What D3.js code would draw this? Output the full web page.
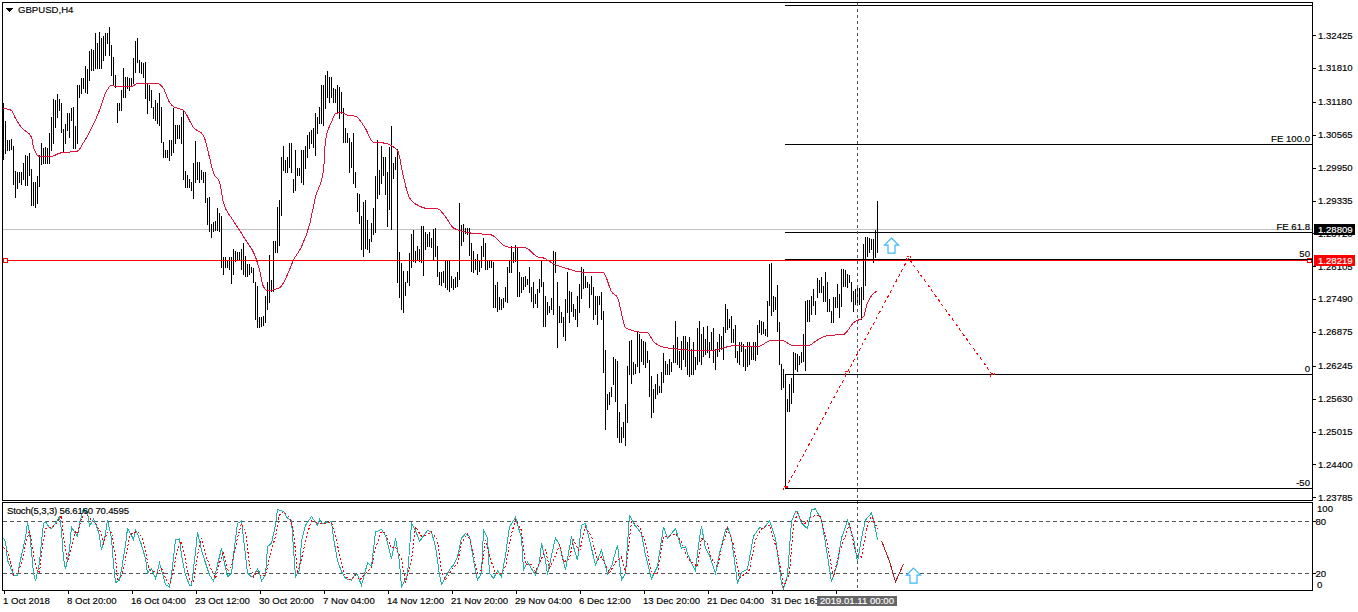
<!DOCTYPE html>
<html>
<head>
<meta charset="utf-8">
<title>GBPUSD,H4</title>
<script src="https://cdn.jsdelivr.net/npm/d3@7/dist/d3.min.js"></script>
<style>
  html, body { margin: 0; padding: 0; background: #fff; }
  svg { display: block; }
  text { font-family: "Liberation Sans", Arial, sans-serif; font-size: 9.6px; fill: #000; stroke: #000; stroke-width: 0.15px; }
  text.inverse { fill: #fff; stroke: #fff; }
  .crisp { shape-rendering: crispEdges; }
</style>
</head>
<body>
<svg id="chart" width="1358" height="612"></svg>
<script>
// H4 bars, oldest first
const highs = [
1.3116,1.3083,1.3047,1.3047,1.3049,1.3036,1.2989,1.2986,1.2987,1.2986,
1.3004,1.3019,1.3017,1.3023,1.2993,1.2969,1.2969,1.2980,1.3019,1.3042,
1.3032,1.3034,1.3032,1.3060,1.3090,1.3124,1.3122,1.3133,1.3124,1.3116,
1.3068,1.3077,1.3097,1.3097,1.3107,1.3109,1.3073,1.3150,1.3150,1.3163,
1.3163,1.3185,1.3179,1.3213,1.3217,1.3215,1.3247,1.3228,1.3248,1.3237,
1.3241,1.3247,1.3247,1.3258,1.3224,1.3202,1.3168,1.3116,1.3116,1.3140,
1.3181,1.3165,1.3165,1.3163,1.3163,1.3200,1.3232,1.3237,1.3196,1.3192,
1.3191,1.3192,1.3153,1.3150,1.3140,1.3109,1.3122,1.3116,1.3135,1.3109,
1.3043,1.3028,1.3028,1.3047,1.3047,1.3107,1.3075,1.3075,1.3075,1.3090,
1.3103,1.2989,1.2982,1.2973,1.2969,1.3004,1.3045,1.3006,1.3006,1.2991,
1.2987,1.2987,1.2939,1.2941,1.2889,1.2894,1.2896,1.2920,1.2911,1.2904,
1.2827,1.2827,1.2823,1.2827,1.2827,1.2842,1.2840,1.2838,1.2838,1.2842,
1.2855,1.2829,1.2814,1.2814,1.2810,1.2808,1.2781,1.2773,1.2715,1.2715,
1.2717,1.2755,1.2782,1.2831,1.2784,1.2857,1.2857,1.2922,1.2935,1.3015,
1.3036,1.3010,1.3014,1.3042,1.3042,1.2973,1.3028,1.2995,1.2995,1.3028,
1.3028,1.3036,1.3056,1.3062,1.3066,1.3069,1.3097,1.3090,1.3109,1.3150,
1.3150,1.3168,1.3176,1.3165,1.3165,1.3144,1.3142,1.3150,1.3146,1.3137,
1.3107,1.3069,1.3060,1.3051,1.3043,1.3060,1.2987,1.2948,1.2945,1.2904,
1.2930,1.2935,1.2898,1.2861,1.2891,1.2919,1.2980,1.3047,1.2991,1.3036,
1.3015,1.3015,1.2986,1.3034,1.3073,1.3004,1.3014,1.3030,1.2838,1.2816,
1.2801,1.2782,1.2801,1.2835,1.2870,1.2879,1.2840,1.2848,1.2842,1.2885,
1.2885,1.2874,1.2870,1.2874,1.2864,1.2881,1.2883,1.2848,1.2799,1.2799,
1.2801,1.2822,1.2820,1.2820,1.2792,1.2786,1.2790,1.2799,1.2928,1.2887,
1.2889,1.2883,1.2883,1.2883,1.2855,1.2840,1.2825,1.2833,1.2823,1.2848,
1.2864,1.2855,1.2823,1.2823,1.2822,1.2818,1.2775,1.2781,1.2753,1.2749,
1.2751,1.2771,1.2809,1.2820,1.2848,1.2837,1.2851,1.2846,1.2799,1.2790,
1.2790,1.2792,1.2786,1.2810,1.2771,1.2781,1.2758,1.2768,1.2786,1.2823,
1.2782,1.2755,1.2743,1.2736,1.2751,1.2840,1.2837,1.2782,1.2736,1.2725,
1.2715,1.2749,1.2799,1.2764,1.2762,1.2740,1.2730,1.2755,1.2777,1.2810,
1.2805,1.2792,1.2781,1.2777,1.2792,1.2771,1.2755,1.2755,1.2755,1.2762,
1.2727,1.2654,1.2572,1.2576,1.2585,1.2641,1.2637,1.2633,1.2538,1.2510,
1.2520,1.2553,1.2624,1.2671,1.2673,1.2632,1.2628,1.2689,1.2684,1.2674,
1.2671,1.2669,1.2652,1.2635,1.2605,1.2581,1.2591,1.2609,1.2587,1.2613,
1.2648,1.2633,1.2628,1.2637,1.2632,1.2663,1.2708,1.2678,1.2652,1.2671,
1.2680,1.2680,1.2669,1.2678,1.2656,1.2669,1.2641,1.2695,1.2708,1.2684,
1.2697,1.2674,1.2699,1.2669,1.2687,1.2695,1.2656,1.2669,1.2684,1.2680,
1.2697,1.2740,1.2730,1.2712,1.2717,1.2693,1.2701,1.2652,1.2669,1.2669,
1.2665,1.2656,1.2669,1.2669,1.2659,1.2669,1.2669,1.2701,1.2710,1.2708,
1.2706,1.2693,1.2745,1.2814,1.2816,1.2755,1.2753,1.2775,1.2706,1.2628,
1.2618,1.2605,1.2563,1.2591,1.2602,1.2650,1.2648,1.2646,1.2643,1.2650,
1.2684,1.2745,1.2747,1.2747,1.2755,1.2768,1.2745,1.2788,1.2784,1.2790,
1.2773,1.2799,1.2781,1.2749,1.2727,1.2753,1.2753,1.2777,1.2758,1.2805,
1.2805,1.2803,1.2796,1.2794,1.2781,1.2764,1.2768,1.2771,1.2769,1.2771,
1.2853,1.2866,1.2866,1.2864,1.2861,1.2861,1.2879,1.2932];

const lows = [
1.3012,1.3023,1.3028,1.3028,1.3030,1.2965,1.2941,1.2956,1.2969,1.2965,
1.2973,1.2963,1.2963,1.2982,1.2926,1.2926,1.2922,1.2928,1.2960,1.3001,
1.3004,1.3004,1.3004,1.3004,1.3028,1.3042,1.3071,1.3090,1.3103,1.3062,
1.3027,1.3042,1.3066,1.3053,1.3084,1.3032,1.3032,1.3042,1.3127,1.3135,
1.3144,1.3137,1.3135,1.3159,1.3178,1.3178,1.3181,1.3181,1.3181,1.3181,
1.3196,1.3206,1.3228,1.3206,1.3168,1.3150,1.3146,1.3081,1.3103,1.3103,
1.3127,1.3127,1.3144,1.3140,1.3148,1.3153,1.3174,1.3192,1.3174,1.3172,
1.3165,1.3125,1.3097,1.3122,1.3109,1.3088,1.3084,1.3079,1.3075,1.3043,
1.3015,1.3015,1.3015,1.3010,1.3019,1.3025,1.3042,1.3051,1.3051,1.3042,
1.2973,1.2958,1.2958,1.2958,1.2954,1.2939,1.2969,1.2973,1.2969,1.2973,
1.2969,1.2930,1.2889,1.2876,1.2866,1.2876,1.2879,1.2879,1.2876,1.2809,
1.2797,1.2810,1.2809,1.2805,1.2779,1.2797,1.2820,1.2823,1.2823,1.2805,
1.2796,1.2792,1.2792,1.2796,1.2799,1.2781,1.2712,1.2697,1.2697,1.2699,
1.2700,1.2706,1.2730,1.2743,1.2764,1.2764,1.2838,1.2838,1.2850,1.2907,
1.2991,1.2986,1.2986,1.2997,1.2986,1.2950,1.2954,1.2982,1.2982,1.2969,
1.2965,1.2995,1.3015,1.3032,1.3042,1.3034,1.3019,1.3060,1.3079,1.3079,
1.3075,1.3107,1.3127,1.3118,1.3127,1.3118,1.3118,1.3099,1.3088,1.3097,
1.3043,1.3043,1.3043,1.2987,1.2997,1.2967,1.2958,1.2913,1.2892,1.2842,
1.2829,1.2844,1.2842,1.2838,1.2857,1.2870,1.2874,1.2939,1.2945,1.2967,
1.2982,1.2945,1.2885,1.2917,1.2881,1.2976,1.2993,1.2781,1.2753,1.2730,
1.2725,1.2756,1.2781,1.2775,1.2810,1.2820,1.2818,1.2823,1.2820,1.2818,
1.2794,1.2842,1.2848,1.2848,1.2846,1.2823,1.2829,1.2792,1.2777,1.2775,
1.2781,1.2771,1.2768,1.2764,1.2771,1.2768,1.2771,1.2773,1.2786,1.2850,
1.2857,1.2872,1.2870,1.2831,1.2801,1.2799,1.2805,1.2797,1.2801,1.2810,
1.2829,1.2805,1.2805,1.2809,1.2809,1.2734,1.2734,1.2727,1.2730,1.2730,
1.2734,1.2745,1.2743,1.2799,1.2799,1.2818,1.2820,1.2755,1.2755,1.2762,
1.2768,1.2773,1.2777,1.2762,1.2745,1.2734,1.2741,1.2734,1.2762,1.2773,
1.2699,1.2699,1.2721,1.2725,1.2730,1.2721,1.2799,1.2659,1.2706,1.2706,
1.2680,1.2673,1.2725,1.2706,1.2727,1.2717,1.2712,1.2699,1.2725,1.2751,
1.2769,1.2771,1.2771,1.2734,1.2758,1.2712,1.2721,1.2702,1.2740,1.2712,
1.2613,1.2507,1.2544,1.2553,1.2568,1.2591,1.2559,1.2492,1.2482,1.2482,
1.2492,1.2477,1.2520,1.2609,1.2592,1.2609,1.2611,1.2624,1.2613,1.2633,
1.2628,1.2622,1.2632,1.2568,1.2529,1.2538,1.2564,1.2572,1.2576,1.2576,
1.2594,1.2609,1.2609,1.2609,1.2615,1.2632,1.2632,1.2628,1.2622,1.2618,
1.2637,1.2624,1.2609,1.2605,1.2609,1.2609,1.2618,1.2628,1.2633,1.2628,
1.2643,1.2646,1.2650,1.2641,1.2656,1.2632,1.2618,1.2643,1.2652,1.2656,
1.2637,1.2687,1.2693,1.2697,1.2669,1.2669,1.2641,1.2632,1.2628,1.2652,
1.2624,1.2617,1.2624,1.2628,1.2637,1.2637,1.2635,1.2646,1.2687,1.2684,
1.2686,1.2682,1.2680,1.2738,1.2719,1.2727,1.2730,1.2689,1.2628,1.2581,
1.2585,1.2544,1.2540,1.2540,1.2555,1.2576,1.2618,1.2615,1.2628,1.2632,
1.2633,1.2617,1.2708,1.2708,1.2721,1.2738,1.2721,1.2753,1.2762,1.2762,
1.2745,1.2745,1.2727,1.2727,1.2706,1.2706,1.2734,1.2734,1.2715,1.2736,
1.2773,1.2773,1.2771,1.2781,1.2745,1.2727,1.2740,1.2740,1.2740,1.2712,
1.2749,1.2775,1.2829,1.2838,1.2842,1.2818,1.2827,1.2838];

// Smoothed moving average, read at its turning points
const maBars = [0,4,6,9,14,15,18,24,28,37,40,43,48,51,54,56,64,67,77,80,83,85,90,95,100,103,105,108,110,114,118,121,126,128,130,132,138,142,145,149,153,156,160,161,164,166,169,172,176,181,185,190,197,200,203,208,211,217,221,225,233,244,250,254,261,267,270,275,282,288,300,304,307,311,317,322,325,329,339,345,355,360,365,377,384,389,395,402,408,412,420,425,430,432,437];
const maValues = [1.3107,1.3103,1.3088,1.3071,1.3053,1.3034,1.3017,1.3017,1.3023,1.3027,1.3043,1.3062,1.3103,1.3135,1.3150,1.3148,1.3148,1.3153,1.3153,1.3144,1.3118,1.3110,1.3103,1.3071,1.3056,1.3015,1.2986,1.2969,1.2930,1.2902,1.2879,1.2861,1.2829,1.2805,1.2773,1.2766,1.2771,1.2796,1.2823,1.2848,1.2889,1.2941,1.2991,1.3047,1.3081,1.3097,1.3099,1.3094,1.3092,1.3069,1.3043,1.3042,1.3028,1.2978,1.2939,1.2924,1.2920,1.2919,1.2904,1.2883,1.2874,1.2870,1.2851,1.2846,1.2846,1.2829,1.2827,1.2816,1.2807,1.2801,1.2799,1.2764,1.2753,1.2697,1.2689,1.2687,1.2671,1.2661,1.2656,1.2654,1.2654,1.2659,1.2663,1.2661,1.2673,1.2673,1.2663,1.2663,1.2676,1.2682,1.2684,1.2706,1.2717,1.2743,1.2766];

// Stochastic %K
const stochBars = [0,1,2,4,5,7,8,9,11,12,13,14,15,16,18,19,20,21,23,24,26,28,29,30,31,33,34,35,37,38,40,42,43,45,47,48,49,51,52,54,55,56,58,59,61,62,64,65,66,67,69,71,72,73,74,76,78,79,81,83,84,86,88,89,91,93,94,96,97,99,101,103,105,107,109,110,112,114,115,117,119,120,122,124,125,127,128,129,131,132,134,136,137,140,142,144,146,148,149,151,154,157,158,159,164,165,167,169,171,174,176,177,179,182,184,186,189,191,194,196,198,199,202,204,206,208,212,214,216,218,219,223,225,227,229,231,233,235,237,239,240,242,243,245,247,249,251,253,256,259,260,262,266,268,269,271,272,274,276,278,281,284,285,287,289,291,294,296,299,302,304,307,309,311,313,315,319,321,324,327,330,332,336,339,341,342,344,346,348,349,351,353,356,358,361,362,364,367,369,372,375,378,380,383,386,389,390,392,394,396,397,399,402,404,406,409,411,414,417,419,422,425,427,429,431,434,435,437];
const stochMain = [61,57,35,24,17,17,30,41,61,79,68,45,20,11,32,57,78,80,73,72,78,86,70,37,25,47,74,70,63,78,95,90,75,83,72,63,47,66,82,61,30,9,12,24,53,72,64,59,70,66,53,37,20,24,25,14,32,24,7,4,18,59,60,41,18,6,6,45,68,47,32,18,11,30,49,37,16,20,41,78,81,61,20,16,17,25,21,11,18,51,55,76,94,92,84,81,16,24,57,76,86,76,83,78,80,61,35,22,14,12,20,18,6,32,28,68,71,64,37,61,33,4,18,78,70,57,70,68,51,18,7,24,30,39,61,66,63,35,12,20,70,61,20,14,23,16,41,74,85,61,24,33,18,33,55,35,18,41,61,53,24,63,51,35,76,78,49,30,47,19,28,53,12,20,88,78,66,41,14,28,74,61,72,49,51,43,32,23,61,75,49,41,20,43,70,74,61,8,21,25,63,73,72,81,61,8,2,18,80,92,92,78,72,94,95,82,55,10,32,61,81,61,33,61,82,90,82,59];

// Stochastic %D
const signalBars = [0,2,4,5,7,9,11,13,14,16,18,19,21,24,26,29,30,32,34,36,37,39,41,44,46,49,50,52,54,56,57,59,61,63,64,67,69,71,73,75,77,79,81,83,85,87,89,91,93,95,97,99,101,104,106,108,110,112,114,117,119,121,123,125,127,129,131,134,136,138,140,143,145,147,149,152,154,157,159,164,166,169,171,174,176,178,181,184,186,189,191,194,196,199,201,204,206,209,211,214,217,219,221,224,227,229,232,234,237,239,241,244,246,249,251,254,256,259,261,264,266,269,271,273,275,278,280,283,285,288,291,294,297,299,303,306,309,311,314,318,321,324,327,330,333,336,339,341,343,347,349,352,354,357,359,362,365,368,373,376,379,383,387,390,393,395,397,400,404,408,411,415,418,423,426,429,432,434,437];
const stochSignal = [50,45,28,18,20,32,53,70,57,28,20,45,72,74,76,87,63,33,49,68,66,84,90,82,78,66,55,68,68,39,11,18,37,63,66,69,63,45,24,22,20,26,14,7,24,49,57,35,12,9,41,61,41,24,14,32,45,22,28,61,78,68,30,16,22,16,18,47,63,88,92,85,70,20,37,66,82,78,78,79,63,32,16,12,18,12,20,27,49,69,66,49,51,37,9,35,74,63,64,68,59,22,12,24,32,55,66,53,20,24,59,33,20,20,28,66,82,70,30,30,22,37,47,26,35,53,33,37,59,45,74,63,35,39,20,33,39,20,80,74,55,20,20,63,63,66,57,43,35,28,61,55,37,28,49,72,53,14,24,59,72,76,45,4,20,76,90,76,86,88,64,16,45,77,45,39,76,86,72];

// Hand-drawn projection in the stochastic window
const projectionBars = [439,443,446,450];
const projectionValues = [58,34,10,31];

// Zigzag drawn over the price window
const zigzagBars = [391,452.5,494.5];
const zigzagPrices = [1.23959,1.28269,1.26081];

// Fibonacci expansion levels
const fibPrices = [1.32990,1.30383,1.28746,1.28241,1.26091,1.23959];
const fibLabels = ["","FE 100.0","FE 61.8","50","0","-50"];
const fibAnchorBar = 391;

// Price axis
const priceTicks = [1.32425,1.31810,1.31180,1.30565,1.29950,1.29335,1.28720,1.28105,1.27490,1.26875,1.26245,1.25630,1.25015,1.24400,1.23785];
const bidPrice = 1.28809;
const linePrice = 1.28219;

// Time axis
const timeTickBars = [0,32,64,96,128,160,192,224,256,288,320,352,384,416];
const timeTickLabels = ["1 Oct 2018","8 Oct 20:00","16 Oct 04:00","23 Oct 12:00","30 Oct 20:00","7 Nov 04:00","14 Nov 12:00","21 Nov 20:00","29 Nov 04:00","6 Dec 12:00","13 Dec 20:00","21 Dec 04:00","31 Dec 16:00",""];
const crosshairBar = 427;
const crosshairLabel = "2019.01.11 00:00";

// Stochastic levels and labels
const stochLevels = [80,20];
const stochScaleLabels = [100,80,20,0];
const stochCaption = "Stoch(5,3,3) 56.6160 70.4595";
const chartCaption = "GBPUSD,H4";

// Up arrows: [bar, value]
const priceArrow = [444,1.28643];
const stochArrow = [455,26];

const left = 2.5, right = 1312.5;
const priceTop = 2.5, priceBottom = 500.5;
const stochTop = 502.5, stochBottom = 590.5;

const x = d3.scaleLinear().domain([0,437]).range([3.5,877.5]);
const y = d3.scaleLinear().domain([1.32425,1.23785]).range([35.8,497.8]);
const yStoch = d3.scaleLinear().domain([0,100]).range([590.5,504.5]);

const svg = d3.select("#chart");
const px = v => Math.round(v - 0.5) + 0.5;

const defs = svg.append("defs");
defs.append("clipPath").attr("id","priceClip").append("rect")
  .attr("x",left).attr("y",priceTop).attr("width",right-left).attr("height",priceBottom-priceTop);
defs.append("clipPath").attr("id","stochClip").append("rect")
  .attr("x",left).attr("y",stochTop).attr("width",right-left).attr("height",stochBottom-stochTop);

// --- price window ---
const main = svg.append("g").attr("class","crisp").attr("clip-path","url(#priceClip)");

main.append("line").attr("x1",left).attr("x2",right)
  .attr("y1",px(y(bidPrice))).attr("y2",px(y(bidPrice))).attr("stroke","#c0c0c0");

main.append("g").selectAll("line").data(highs).join("line")
  .attr("x1",(d,i)=>x(i)).attr("x2",(d,i)=>x(i))
  .attr("y1",d=>px(y(d))-0.5).attr("y2",(d,i)=>px(y(lows[i]))+0.5)
  .attr("stroke","#000");

const maLine = d3.line().x((d,i)=>x(maBars[i])).y(d=>y(d)).curve(d3.curveMonotoneX);
main.append("path").attr("d",maLine(maValues)).attr("fill","none").attr("stroke","#dc143c");

// Horizontal price line with its end handles
main.append("line").attr("x1",left).attr("x2",right)
  .attr("y1",px(y(linePrice))).attr("y2",px(y(linePrice))).attr("stroke","#ff0000");
[x(0)+1.5, right-3.5].forEach(cx => {
  main.append("rect").attr("x",Math.floor(cx-2)+0.5).attr("y",px(y(linePrice))-2)
    .attr("width",4).attr("height",4).attr("fill","#fff").attr("stroke","#ff0000");
});

// Fibonacci expansion
main.append("g").selectAll("line").data(fibPrices).join("line")
  .attr("x1",x(fibAnchorBar)-1).attr("x2",right)
  .attr("y1",d=>px(y(d))).attr("y2",d=>px(y(d))).attr("stroke","#000");
main.append("line").attr("x1",x(fibAnchorBar)-0.5).attr("x2",x(fibAnchorBar)-0.5)
  .attr("y1",px(y(fibPrices[4]))).attr("y2",px(y(fibPrices[5]))).attr("stroke","#000");

// Zigzag with small end handles
const zigzagLine = d3.line().x((d,i)=>x(zigzagBars[i])).y(d=>y(d));
main.append("path").attr("d",zigzagLine(zigzagPrices)).attr("fill","none")
  .attr("stroke","#ff0000").attr("stroke-dasharray","3,3");
const zigMidBar = d3.mean(zigzagBars.slice(0,2));
const zigMidPrice = d3.mean(zigzagPrices.slice(0,2));
[[zigzagBars[0],zigzagPrices[0]],[zigzagBars[1],zigzagPrices[1]],[zigzagBars[2],zigzagPrices[2]],[zigMidBar,zigMidPrice]]
  .forEach(([b,p]) => {
    main.append("path")
      .attr("d",`M${x(b)-2},${y(p)+2}V${y(p)-2}H${x(b)+2}V${y(p)+2}`)
      .attr("fill","none").attr("stroke","#ff0000").attr("stroke-dasharray","2,2");
  });

// --- stochastic window ---
const sub = svg.append("g").attr("class","crisp").attr("clip-path","url(#stochClip)");
sub.append("g").selectAll("line").data(stochLevels).join("line")
  .attr("x1",left).attr("x2",right).attr("y1",d=>px(yStoch(d))).attr("y2",d=>px(yStoch(d)))
  .attr("stroke","#555").attr("stroke-dasharray","4,3");
sub.append("path")
  .attr("d",d3.line().x((d,i)=>x(stochBars[i])).y(d=>yStoch(d))(stochMain))
  .attr("fill","none").attr("stroke","#20b2aa");
sub.append("path")
  .attr("d",d3.line().x((d,i)=>x(signalBars[i])).y(d=>yStoch(d))(stochSignal))
  .attr("fill","none").attr("stroke","#ff0000").attr("stroke-dasharray","2,2");
sub.append("path")
  .attr("d",d3.line().x((d,i)=>x(projectionBars[i])).y(d=>yStoch(d))(projectionValues))
  .attr("fill","none").attr("stroke","#b22222");

// Shared time cursor
svg.append("line").attr("class","crisp")
  .attr("x1",x(crosshairBar)).attr("x2",x(crosshairBar)).attr("y1",priceTop).attr("y2",stochBottom)
  .attr("stroke","#555").attr("stroke-dasharray","3,3");

// Hollow up arrows
const arrowPath = d3.line()([[0,0],[7,7],[3.5,7],[3.5,15],[-3.5,15],[-3.5,7],[-7,7]]) + "Z";
[[x(priceArrow[0]),y(priceArrow[1])],[x(stochArrow[0]),yStoch(stochArrow[1])]].forEach(([ax,ay]) => {
  svg.append("path").attr("d",arrowPath).attr("transform",`translate(${ax},${ay})`)
    .attr("fill","#fff").attr("stroke","#3ab8fb").attr("stroke-width",1.2);
});

// Window frames
const frames = svg.append("g").attr("class","crisp").attr("fill","none").attr("stroke","#000");
frames.append("rect").attr("x",left).attr("y",priceTop).attr("width",right-left).attr("height",priceBottom-priceTop);
frames.append("rect").attr("x",left).attr("y",stochTop).attr("width",right-left).attr("height",stochBottom-stochTop);

// Price axis
const priceAxis = d3.axisRight(y).tickValues(priceTicks).tickFormat(d3.format(".5f")).tickSize(3).tickPadding(2.5);
const pa = svg.append("g").attr("transform",`translate(${right},0)`).call(priceAxis);
pa.select(".domain").remove();
pa.selectAll("line").attr("class","crisp").attr("stroke","#000").attr("transform","translate(0,-0.5)");
pa.selectAll("text").attr("fill","#000").attr("y",-0.8);

// Stochastic axis
const stochLabelY = {100:509,80:521.7,20:573.5,0:584.5};
const stochLabelX = {100:1317,80:1315.5,20:1315.5,0:1317};
svg.append("g").selectAll("line").data(stochLevels).join("line").attr("class","crisp")
  .attr("x1",right).attr("x2",right+3).attr("y1",d=>px(yStoch(d))).attr("y2",d=>px(yStoch(d))).attr("stroke","#000");
svg.append("g").selectAll("text").data(stochScaleLabels).join("text")
  .attr("x",d=>stochLabelX[d]).attr("y",d=>stochLabelY[d]).attr("dy","0.34em").text(d=>d);

// Time axis
const timeAxis = d3.axisBottom(x).tickValues(timeTickBars)
  .tickFormat((d,i)=>timeTickLabels[i]).tickSize(3).tickPadding(4);
const ta = svg.append("g").attr("transform",`translate(0,${stochBottom})`).call(timeAxis);
ta.select(".domain").remove();
ta.selectAll("line").attr("class","crisp").attr("stroke","#000");
ta.selectAll("text").attr("text-anchor","start").attr("dx",-1).attr("fill","#000");

// Fibonacci level captions
fibPrices.forEach((p,i) => {
  if (!fibLabels[i]) return;
  svg.append("text").attr("x",right-2.5).attr("y",px(y(p))-2.5).attr("text-anchor","end").text(fibLabels[i]);
});

// Current-price tags
[[bidPrice,"#000"],[linePrice,"#ff0000"]].forEach(([p,c]) => {
  const cy = px(y(p));
  svg.append("rect").attr("class","crisp").attr("x",1314).attr("y",Math.floor(cy)-5).attr("width",41).attr("height",11).attr("fill",c);
  svg.append("text").attr("class","inverse").attr("x",1318).attr("y",cy).attr("dy","0.34em").text(d3.format(".5f")(p));
});

// Cursor time tag
svg.append("rect").attr("class","crisp").attr("x",x(crosshairBar)-40.5).attr("y",596).attr("width",80).attr("height",10).attr("fill","#666");
svg.append("text").attr("class","inverse").attr("x",x(crosshairBar)-0.5).attr("y",601).attr("dy","0.34em").attr("text-anchor","middle").text(crosshairLabel);

// Captions
svg.append("path").attr("class","crisp").attr("d",d3.line()([[6,8],[13,8],[9.5,12]])+"Z").attr("fill","#000");
svg.append("text").attr("x",18).attr("y",10).attr("dy","0.34em").text(chartCaption);
svg.append("text").attr("x",7).attr("y",511).attr("dy","0.34em").attr("textLength",122).text(stochCaption);
</script>
</body>
</html>
